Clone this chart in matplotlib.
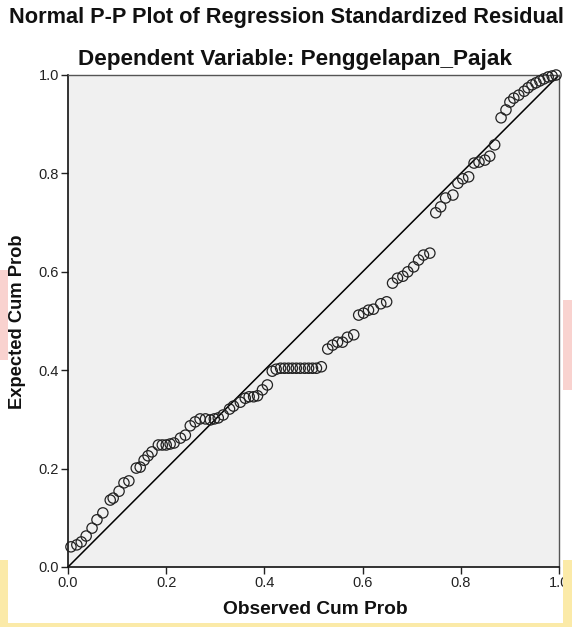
import matplotlib
matplotlib.use("Agg")
import matplotlib.pyplot as plt
from matplotlib.patches import Rectangle

observed = [0.006, 0.018, 0.027, 0.037, 0.049, 0.059, 0.071, 0.086, 0.092, 0.104,
            0.114, 0.124, 0.139, 0.147, 0.155, 0.163, 0.171, 0.184, 0.192, 0.200,
            0.208, 0.216, 0.229, 0.239, 0.249, 0.259, 0.269, 0.280, 0.290, 0.298,
            0.306, 0.316, 0.329, 0.337, 0.351, 0.361, 0.369, 0.378, 0.386, 0.396,
            0.406, 0.416, 0.424, 0.433, 0.441, 0.449, 0.457, 0.465, 0.473, 0.482,
            0.490, 0.498, 0.506, 0.516, 0.529, 0.539, 0.549, 0.559, 0.569, 0.582,
            0.592, 0.602, 0.612, 0.622, 0.637, 0.649, 0.661, 0.671, 0.682, 0.692,
            0.704, 0.714, 0.724, 0.737, 0.749, 0.759, 0.769, 0.784, 0.794, 0.804,
            0.816, 0.827, 0.837, 0.849, 0.859, 0.869, 0.882, 0.892, 0.900, 0.908,
            0.918, 0.929, 0.937, 0.945, 0.953, 0.961, 0.969, 0.978, 0.986, 0.994]
expected = [0.041, 0.045, 0.051, 0.063, 0.079, 0.096, 0.110, 0.136, 0.140, 0.154,
            0.171, 0.175, 0.201, 0.203, 0.217, 0.226, 0.234, 0.248, 0.248, 0.248,
            0.250, 0.252, 0.262, 0.268, 0.287, 0.295, 0.301, 0.301, 0.299, 0.301,
            0.303, 0.309, 0.321, 0.327, 0.335, 0.343, 0.346, 0.346, 0.348, 0.360,
            0.370, 0.398, 0.402, 0.404, 0.404, 0.404, 0.404, 0.404, 0.404, 0.404,
            0.404, 0.404, 0.404, 0.407, 0.443, 0.451, 0.457, 0.457, 0.467, 0.472,
            0.512, 0.516, 0.522, 0.524, 0.535, 0.539, 0.577, 0.587, 0.591, 0.600,
            0.610, 0.624, 0.634, 0.638, 0.720, 0.732, 0.750, 0.756, 0.780, 0.789,
            0.793, 0.821, 0.823, 0.827, 0.835, 0.858, 0.913, 0.929, 0.945, 0.953,
            0.959, 0.967, 0.974, 0.980, 0.984, 0.988, 0.992, 0.996, 0.998, 1.000]
ticks = [0.0, 0.2, 0.4, 0.6, 0.8, 1.0]
tick_labels = ["0.0", "0.2", "0.4", "0.6", "0.8", "1.0"]

plt.rcParams['font.family'] = ['Liberation Sans', 'DejaVu Sans']

W, H = 572, 627
fig = plt.figure(figsize=(W / 100, H / 100), dpi=100)
fig.patch.set_facecolor("white")

# faint watermark colours at the picture edges
def band(px, py, pw, ph, color):
    fig.patches.append(Rectangle((px / W, 1 - (py + ph) / H), pw / W, ph / H,
                                 transform=fig.transFigure, facecolor=color,
                                 edgecolor="none", zorder=0))

band(0, 270, 8, 90, "#f9d2cf")
band(0, 560, 8, 67, "#fbeaa8")
band(563, 300, 9, 90, "#f9d2cf")
band(563, 560, 9, 67, "#fbeaa8")
band(0, 623, 572, 4, "#fbeaa8")

x0, x1, y0, y1 = 68, 559, 75, 567
ax = fig.add_axes([x0 / W, 1 - y1 / H, (x1 - x0) / W, (y1 - y0) / H])
ax.set_facecolor("#f0f0f0")
ax.plot([0, 1], [0, 1], color="black", lw=1.1, zorder=2)
ax.scatter(observed, expected, s=55, facecolors="none", edgecolors="#222222",
           linewidths=0.9, zorder=3, clip_on=False)
ax.set_xlim(0, 1)
ax.set_ylim(0, 1)
ax.set_xticks(ticks)
ax.set_xticklabels(tick_labels)
ax.set_yticks(ticks)
ax.set_yticklabels(tick_labels)
ax.tick_params(direction="out", length=5, width=1, labelsize=10.5, pad=1.5, colors="#222222")
for side in ["left", "bottom"]:
    ax.spines[side].set_color("#111111")
    ax.spines[side].set_linewidth(1.2)
for side in ["top", "right"]:
    ax.spines[side].set_color("#555555")
    ax.spines[side].set_linewidth(1.0)

fig.text(286 / W, 1 - 18 / H, "Normal P-P Plot of Regression Standardized Residual",
         ha="center", va="center", fontsize=15.7, fontweight="bold", color="#111111")
fig.text(295 / W, 1 - 60 / H, "Dependent Variable: Penggelapan_Pajak",
         ha="center", va="center", fontsize=16.2, fontweight="bold", color="#111111")
fig.text(315 / W, 1 - 610 / H, "Observed Cum Prob", ha="center", va="center",
         fontsize=13.8, fontweight="bold", color="#111111")
fig.text(18 / W, 1 - 322 / H, "Expected Cum Prob", ha="center", va="center",
         rotation=90, fontsize=13.2, fontweight="bold", color="#111111")

fig.savefig("out.png", dpi=100)
